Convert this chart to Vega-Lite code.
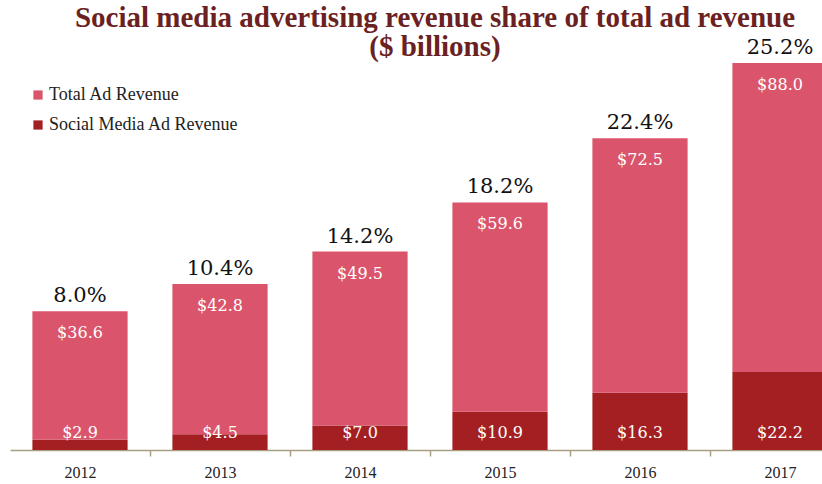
{
  "$schema": "https://vega.github.io/schema/vega-lite/v6.json",
  "autosize": "none",
  "width": 822,
  "height": 388,
  "padding": {"left": 0, "top": 62, "right": 0, "bottom": 34},
  "background": "white",
  "title": {
    "text": ["Social media advertising revenue share of total ad revenue", "($ billions)"],
    "anchor": "middle",
    "dx": 24,
    "dy": 31,
    "offset": 6,
    "font": "Liberation Serif",
    "fontSize": 29,
    "fontWeight": "bold",
    "color": "#6B2121",
    "lineHeight": 29
  },
  "config": {"view": {"stroke": null}},
  "data": {
    "values": [
      {"year": "2012", "series": "Social Media Ad Revenue", "ord": 1, "value": 2.9, "label": "$2.9", "pct": "8.0%"},
      {"year": "2012", "series": "Total Ad Revenue", "ord": 2, "value": 36.6, "label": "$36.6", "pct": "8.0%"},
      {"year": "2013", "series": "Social Media Ad Revenue", "ord": 1, "value": 4.5, "label": "$4.5", "pct": "10.4%"},
      {"year": "2013", "series": "Total Ad Revenue", "ord": 2, "value": 42.8, "label": "$42.8", "pct": "10.4%"},
      {"year": "2014", "series": "Social Media Ad Revenue", "ord": 1, "value": 7.0, "label": "$7.0", "pct": "14.2%"},
      {"year": "2014", "series": "Total Ad Revenue", "ord": 2, "value": 49.5, "label": "$49.5", "pct": "14.2%"},
      {"year": "2015", "series": "Social Media Ad Revenue", "ord": 1, "value": 10.9, "label": "$10.9", "pct": "18.2%"},
      {"year": "2015", "series": "Total Ad Revenue", "ord": 2, "value": 59.6, "label": "$59.6", "pct": "18.2%"},
      {"year": "2016", "series": "Social Media Ad Revenue", "ord": 1, "value": 16.3, "label": "$16.3", "pct": "22.4%"},
      {"year": "2016", "series": "Total Ad Revenue", "ord": 2, "value": 72.5, "label": "$72.5", "pct": "22.4%"},
      {"year": "2017", "series": "Social Media Ad Revenue", "ord": 1, "value": 22.2, "label": "$22.2", "pct": "25.2%"},
      {"year": "2017", "series": "Total Ad Revenue", "ord": 2, "value": 88.0, "label": "$88.0", "pct": "25.2%"}
    ]
  },
  "encoding": {
    "x": {
      "field": "year",
      "type": "nominal",
      "scale": {"range": [10, 850], "paddingInner": 0.32, "paddingOuter": 0.16},
      "axis": {
        "title": null,
        "labelAngle": 0,
        "labelFont": "Liberation Serif",
        "labelFontSize": 16,
        "labelColor": "#222222",
        "labelPadding": 8,
        "labelOffset": -70,
        "domainColor": "#A89E82",
        "domainWidth": 1.5,
        "tickColor": "#A89E82",
        "tickSize": 6,
        "tickWidth": 1.5,
        "tickOffset": 70
      }
    }
  },
  "layer": [
    {
      "mark": {"type": "bar"},
      "encoding": {
        "y": {"field": "value", "type": "quantitative", "stack": "zero", "scale": {"domain": [0, 110.5], "nice": false, "zero": true}, "axis": null},
        "color": {
          "field": "series",
          "type": "nominal",
          "scale": {"domain": ["Total Ad Revenue", "Social Media Ad Revenue"], "range": ["#DA556B", "#A31F22"]},
          "legend": {
            "title": null,
            "orient": "none",
            "legendX": 29,
            "legendY": 24,
            "symbolType": "square",
            "symbolSize": 85,
            "symbolStrokeWidth": 0,
            "labelFont": "Liberation Serif",
            "labelFontSize": 18,
            "labelLimit": 400,
            "labelColor": "#222222",
            "rowPadding": 12,
            "padding": 0,
            "labelOffset": 2
          }
        },
        "order": {"field": "ord", "type": "quantitative"}
      }
    },
    {
      "transform": [
        {"stack": "value", "groupby": ["year"], "sort": [{"field": "ord"}], "as": ["v0", "v1"]},
        {"filter": "datum.series === 'Total Ad Revenue'"}
      ],
      "layer": [
        {
          "mark": {"type": "text", "font": "DejaVu Serif", "fontSize": 16, "color": "white", "baseline": "middle", "dy": 22},
          "encoding": {"y": {"field": "v1", "type": "quantitative"}, "text": {"field": "label"}}
        },
        {
          "mark": {"type": "text", "font": "DejaVu Serif", "fontSize": 21, "color": "#111111", "baseline": "alphabetic", "dy": -9},
          "encoding": {"y": {"field": "v1", "type": "quantitative"}, "text": {"field": "pct"}}
        }
      ]
    },
    {
      "transform": [{"filter": "datum.series === 'Social Media Ad Revenue'"}],
      "mark": {"type": "text", "font": "DejaVu Serif", "fontSize": 16, "color": "white", "baseline": "middle", "dy": -17},
      "encoding": {"y": {"datum": 0, "type": "quantitative"}, "text": {"field": "label"}}
    }
  ]
}
